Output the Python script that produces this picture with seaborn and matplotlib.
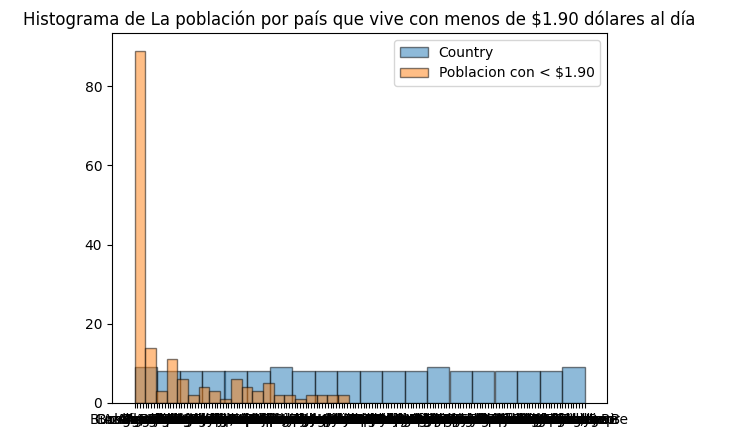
import matplotlib
matplotlib.use("Agg")
import matplotlib.pyplot as plt
import seaborn as sns
import pandas as pd

sns.reset_orig()

countries = [
    "Burkina Faso", "Congo, Rep.", "Azerbaijan", "Albania", "Algeria", "Angola", "Argentina", "Armenia", "Australia", "Austria",
    "Bangladesh", "Belarus", "Belgium", "Belize", "Benin", "Bhutan", "Bolivia", "Bosnia and Herzegovina", "Botswana", "Brazil",
    "Bulgaria", "Burundi", "Cabo Verde", "Cameroon", "Canada", "Central African Republic", "Chad", "Chile", "China", "Colombia",
    "Comoros", "Congo, Dem. Rep.", "West Bank and Gaza", "Costa Rica", "Croatia", "Cyprus", "Czech Republic", "Denmark", "Djibouti", "Dominican Republic",
    "Ecuador", "Egypt, Arab Rep.", "El Salvador", "Estonia", "Eswatini", "Ethiopia", "Fiji", "Finland", "France", "Gabon",
    "Gambia, The", "Georgia", "Germany", "Ghana", "Greece", "Guatemala", "Guinea", "Guinea-Bissau", "Guyana", "Haiti",
    "Honduras", "Hungary", "Iceland", "India", "Indonesia", "Iran, Islamic Rep.", "Iraq", "Ireland", "Israel", "Italy",
    "Jamaica", "Japan", "Jordan", "Kazakhstan", "Kenya", "Kiribati", "Korea, Rep.", "Kosovo", "Kyrgyz Republic", "Lao PDR",
    "Latvia", "Lebanon", "Lesotho", "Liberia", "Lithuania", "Luxembourg", "Madagascar", "Malawi", "Malaysia", "Maldives",
    "Mali", "Malta", "Mauritania", "Mauritius", "Mexico", "Micronesia, Fed. Sts.", "Moldova", "Mongolia", "Montenegro", "Morocco",
    "Mozambique", "Myanmar", "Namibia", "Nepal", "Netherlands", "Nicaragua", "Niger", "Nigeria", "North Macedonia", "Norway",
    "Pakistan", "Panama", "Papua New Guinea", "Paraguay", "Peru", "Philippines", "Poland", "Portugal", "Romania", "Russian Federation",
    "Rwanda", "Samoa", "Sao Tome and Principe", "Senegal", "Serbia", "Seychelles", "Sierra Leone", "Slovak Republic", "Slovenia", "Solomon Islands",
    "South Africa", "South Sudan", "Spain", "Sri Lanka", "St. Lucia", "Sudan", "Suriname", "Sweden", "Switzerland", "Syrian Arab Republic",
    "Tajikistan", "Tanzania", "Thailand", "Timor-Leste", "Togo", "Tonga", "Trinidad and Tobago", "Tunisia", "Turkey", "Turkmenistan",
    "Tuvalu", "Uganda", "Ukraine", "United Kingdom", "United States", "Uruguay", "Uzbekistan", "Vanuatu", "Venezuela, RB", "Vietnam",
    "Yemen, Rep.", "Zambia", "Zimbabwe", "Cote d'Ivoire",
]

poblacion = [
    0.0, 0.1, 0.1, 0.2, 0.2, 0.3, 0.3, 0.4, 0.5, 0.5,
    0.6, 0.7, 0.8, 0.9, 1.0, 1.1, 1.2, 1.3, 1.4, 1.5,
    0.0, 0.1, 0.2, 0.3, 0.4, 0.6, 0.7, 0.9, 1.0, 1.2,
    1.6, 1.7, 1.8, 1.9, 2.0, 2.1, 2.2, 2.3, 2.4, 2.5,
    2.6, 2.7, 2.8, 2.9, 3.0, 3.1, 3.2, 3.3, 3.4, 3.5,
    0.0, 0.1, 0.2, 0.3, 0.5, 0.6, 0.8, 1.1, 1.3, 1.5,
    0.0, 0.1, 0.1, 0.2, 0.4, 0.6, 0.8, 1.0, 1.4, 1.7,
    0.0, 0.1, 0.2, 0.3, 0.5, 0.7, 0.9, 2.0, 2.5, 3.0,
    0.0, 0.1, 0.3, 0.4, 0.6, 1.9, 2.2, 2.8, 3.6,
    4.0, 4.2, 4.5, 4.8, 5.0, 5.3, 5.6, 5.9, 6.2, 6.5, 6.8, 7.1, 7.3, 7.6,
    8.3, 9.7, 11.0,
    11.8, 12.1, 12.5, 12.9, 13.2, 13.6, 14.0, 14.3, 14.7, 15.0, 15.3,
    15.9, 16.5, 17.2, 17.8, 18.4, 19.0,
    20.3, 22.5,
    23.8, 24.9, 25.7, 26.6,
    27.9, 29.1, 30.3,
    33.0,
    35.2, 35.8, 36.4, 37.0, 37.6, 38.3,
    39.4, 40.3, 41.2, 42.1,
    43.5, 44.9, 45.8,
    47.0, 47.8, 48.6, 49.4, 50.1,
    51.5, 53.3,
    55.4, 57.1,
    60.1,
    62.9, 64.7,
    66.7, 68.9,
    70.8, 72.6,
    75.1, 77.6,
]

df = pd.DataFrame({"Country": countries, "Poblacion con < $1.90": poblacion})

palette = sns.color_palette("tab10")

fig = plt.figure(figsize=(7.45, 4.42), dpi=100)
ax = fig.add_axes([112 / 745, 39 / 442, 495 / 745, 370 / 442])

ax.hist(df["Country"], bins=20, alpha=0.5, color=palette[0],
        edgecolor="black", label="Country")
ax.hist(df["Poblacion con < $1.90"], bins=20, alpha=0.5, color=palette[1],
        edgecolor="black", label="Poblacion con < $1.90")

ax.set_title("Histograma de La población por país que vive con menos de $1.90 dólares al día")
ax.legend(loc="upper right")

fig.savefig("out.png", dpi=100)
